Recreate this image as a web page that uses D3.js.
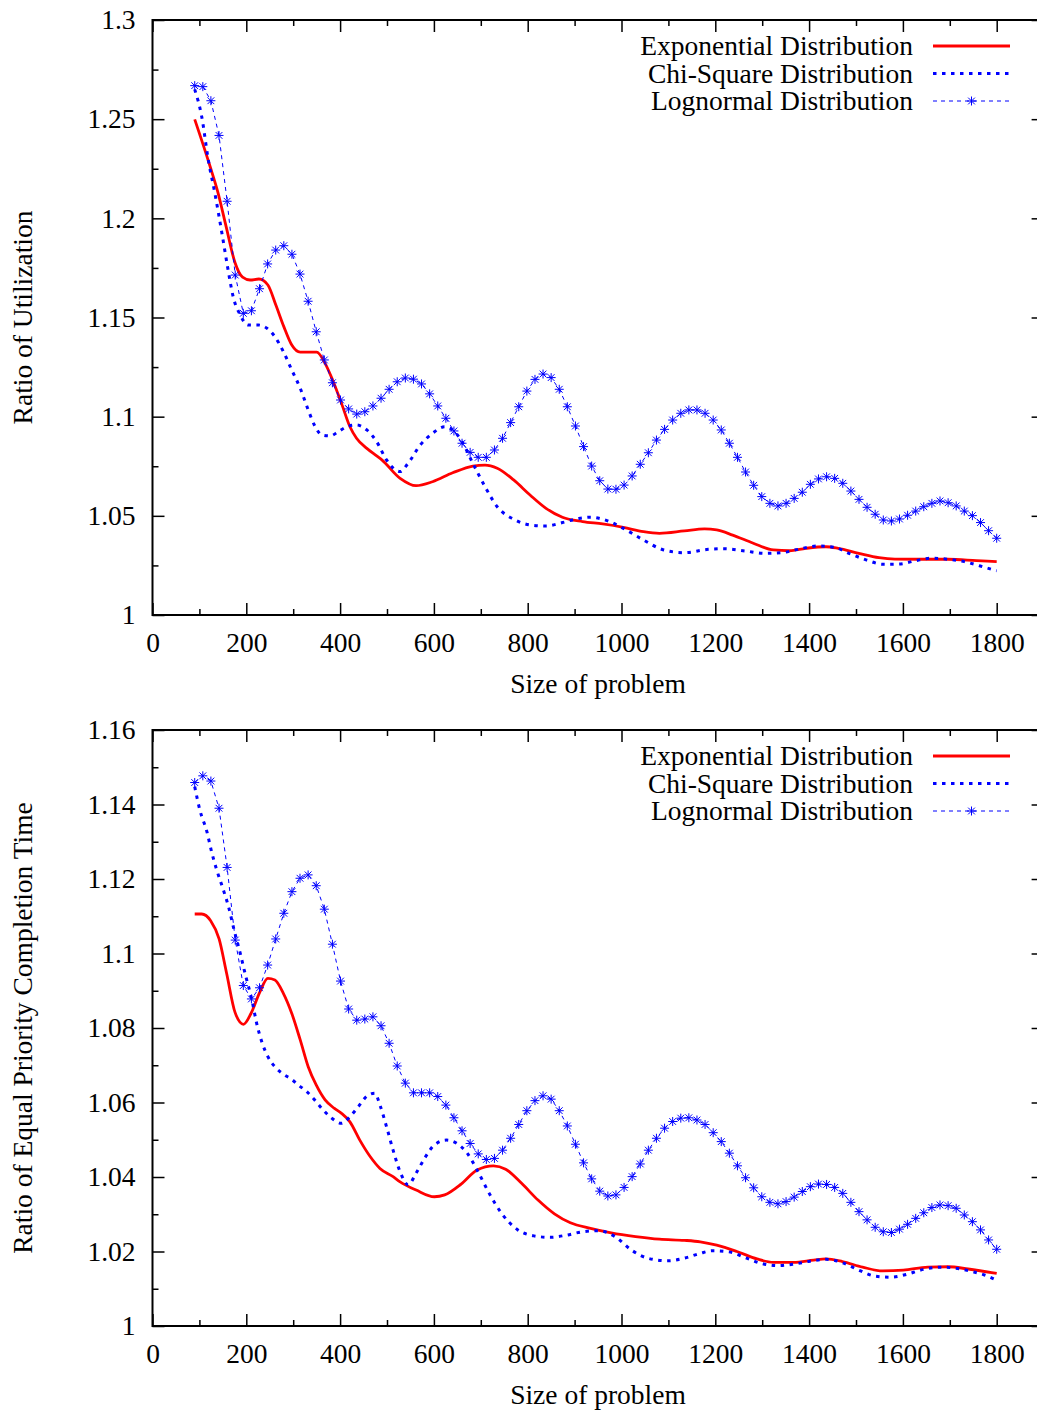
<!DOCTYPE html>
<html>
<head>
<meta charset="utf-8">
<script src="https://cdn.jsdelivr.net/npm/d3@7"></script>
<style>
  body { margin: 0; background: #fff; }
  svg text { font-family: "Liberation Serif", "Times New Roman", serif; fill: #000; }
</style>
</head>
<body>
<div id="chart"></div>
<script>
// x positions of the sampled points (shared by the lognormal curves)
const sampleX = [
  90.0, 107.3, 124.5, 141.8, 159.1, 176.4, 193.6, 210.9, 228.2, 245.5,
  262.7, 280.0, 297.3, 314.5, 331.8, 349.1, 366.4, 383.6, 400.9, 418.2,
  435.5, 452.7, 470.0, 487.3, 504.5, 521.8, 539.1, 556.4, 573.6, 590.9,
  608.2, 625.5, 642.7, 660.0, 677.3, 694.5, 711.8, 729.1, 746.4, 763.6,
  780.9, 798.2, 815.5, 832.7, 850.0, 867.3, 884.5, 901.8, 919.1, 936.4,
  953.6, 970.9, 988.2, 1005.5, 1022.7, 1040.0, 1057.3, 1074.5, 1091.8, 1109.1,
  1126.4, 1143.6, 1160.9, 1178.2, 1195.5, 1212.7, 1230.0, 1247.3, 1264.5, 1281.8,
  1299.1, 1316.4, 1333.6, 1350.9, 1368.2, 1385.5, 1402.7, 1420.0, 1437.3, 1454.5,
  1471.8, 1489.1, 1506.4, 1523.6, 1540.9, 1558.2, 1575.5, 1592.7, 1610.0, 1627.3,
  1644.5, 1661.8, 1679.1, 1696.4, 1713.6, 1730.9, 1748.2, 1765.5, 1782.7, 1800.0
];

// ---- top panel: Ratio of Utilization
const utilExponential = [[90,1.2499],[123,1.2260],[140,1.2126],[157,1.1958],[176,1.1776],[192,1.1703],[208,1.1689],[227,1.1694],[246,1.1664],[263,1.1563],[280,1.1454],[297,1.1361],[315,1.1325],[350,1.1325],[368,1.1269],[384,1.1185],[403,1.1067],[421,1.0949],[435,1.0891],[457,1.0840],[478,1.0802],[489,1.0782],[528,1.0689],[562,1.0652],[597,1.0672],[640,1.0717],[683,1.0751],[709,1.0756],[735,1.0740],[770,1.0681],[805,1.0605],[839,1.0538],[874,1.0493],[917,1.0471],[960,1.0459],[1004,1.0442],[1047,1.0420],[1081,1.0412],[1134,1.0424],[1177,1.0434],[1203,1.0429],[1237,1.0403],[1281,1.0362],[1324,1.0328],[1358,1.0324],[1393,1.0336],[1436,1.0344],[1462,1.0336],[1506,1.0311],[1549,1.0289],[1583,1.0282],[1635,1.0281],[1696,1.0281],[1757,1.0274],[1800,1.0269]];

const utilChiSquare = [[90,1.2650],[105,1.2512],[119,1.2294],[133,1.2126],[148,1.1925],[160,1.1756],[172,1.1605],[187,1.1513],[204,1.1462],[226,1.1462],[244,1.1446],[261,1.1403],[279,1.1328],[297,1.1235],[315,1.1143],[332,1.1034],[347,1.0949],[361,1.0908],[379,1.0903],[396,1.0924],[414,1.0949],[435,1.0958],[457,1.0933],[478,1.0874],[499,1.0782],[528,1.0723],[545,1.0765],[571,1.0857],[597,1.0916],[623,1.0949],[640,1.0933],[658,1.0882],[683,1.0765],[709,1.0647],[735,1.0546],[770,1.0483],[805,1.0454],[839,1.0449],[874,1.0466],[909,1.0487],[934,1.0493],[969,1.0476],[1004,1.0437],[1047,1.0378],[1090,1.0328],[1134,1.0314],[1185,1.0331],[1220,1.0334],[1263,1.0323],[1307,1.0311],[1341,1.0314],[1376,1.0331],[1419,1.0348],[1454,1.0341],[1488,1.0308],[1523,1.0277],[1557,1.0256],[1592,1.0257],[1627,1.0274],[1661,1.0286],[1696,1.0281],[1731,1.0269],[1765,1.0247],[1800,1.0223]];

const utilLognormal = [
  1.2669, 1.2664, 1.2593, 1.2418, 1.2086, 1.1714, 1.1521, 1.1534, 1.1645, 1.1770,
  1.1840, 1.1862, 1.1819, 1.1719, 1.1582, 1.1428, 1.1286, 1.1171, 1.1084, 1.1039,
  1.1013, 1.1025, 1.1054, 1.1093, 1.1138, 1.1176, 1.1195, 1.1189, 1.1165, 1.1115,
  1.1054, 1.0992, 1.0928, 1.0866, 1.0820, 1.0795, 1.0795, 1.0832, 1.0891, 1.0970,
  1.1050, 1.1129, 1.1188, 1.1215, 1.1197, 1.1138, 1.1050, 1.0953, 1.0849, 1.0751,
  1.0677, 1.0635, 1.0634, 1.0655, 1.0701, 1.0760, 1.0818, 1.0882, 1.0936, 1.0983,
  1.1017, 1.1034, 1.1034, 1.1017, 1.0983, 1.0933, 1.0866, 1.0795, 1.0721, 1.0654,
  1.0597, 1.0563, 1.0550, 1.0563, 1.0588, 1.0619, 1.0659, 1.0686, 1.0697, 1.0689,
  1.0664, 1.0625, 1.0583, 1.0543, 1.0508, 1.0479, 1.0474, 1.0484, 1.0503, 1.0524,
  1.0546, 1.0563, 1.0575, 1.0566, 1.0550, 1.0524, 1.0501, 1.0466, 1.0425, 1.0387
];

const utilTickValues = [1, 1.05, 1.1, 1.15, 1.2, 1.25, 1.3];
const utilTickLabels = ["1", "1.05", "1.1", "1.15", "1.2", "1.25", "1.3"];

// ---- bottom panel: Ratio of Equal Priority Completion Time
const ectExponential = [[90,1.1106],[105,1.1106],[124,1.1088],[142,1.1039],[158,1.0947],[176,1.0842],[194,1.0810],[210,1.0839],[229,1.0897],[246,1.0933],[261,1.0929],[279,1.0893],[297,1.0839],[315,1.0768],[332,1.0696],[349,1.0647],[368,1.0607],[388,1.0584],[403,1.0571],[421,1.0548],[442,1.0499],[464,1.0455],[485,1.0423],[513,1.0401],[528,1.0387],[562,1.0365],[601,1.0347],[623,1.0352],[658,1.0381],[692,1.0419],[727,1.0430],[753,1.0421],[787,1.0383],[822,1.0338],[857,1.0301],[891,1.0277],[934,1.0262],[978,1.0250],[1030,1.0240],[1081,1.0233],[1134,1.0230],[1168,1.0226],[1203,1.0217],[1246,1.0200],[1289,1.0180],[1324,1.0171],[1367,1.0171],[1410,1.0177],[1436,1.0180],[1471,1.0173],[1514,1.0158],[1557,1.0148],[1601,1.0150],[1653,1.0158],[1696,1.0159],[1739,1.0153],[1800,1.0141]];

const ectChiSquare = [[90,1.1448],[101,1.1385],[116,1.1327],[126,1.1273],[137,1.1224],[150,1.1175],[162,1.1126],[174,1.1063],[187,1.1001],[199,1.0938],[212,1.0875],[222,1.0813],[233,1.0763],[246,1.0723],[261,1.0696],[279,1.0676],[297,1.0662],[311,1.0647],[329,1.0629],[343,1.0611],[361,1.0584],[382,1.0558],[403,1.0544],[421,1.0562],[439,1.0589],[457,1.0617],[474,1.0625],[485,1.0593],[499,1.0535],[513,1.0472],[528,1.0414],[545,1.0379],[562,1.0410],[580,1.0450],[601,1.0486],[627,1.0499],[649,1.0490],[671,1.0464],[692,1.0419],[718,1.0356],[744,1.0303],[779,1.0258],[813,1.0242],[848,1.0238],[883,1.0244],[917,1.0253],[952,1.0256],[986,1.0240],[1021,1.0204],[1056,1.0182],[1099,1.0175],[1134,1.0182],[1168,1.0195],[1194,1.0202],[1229,1.0199],[1263,1.0184],[1298,1.0168],[1333,1.0162],[1367,1.0166],[1402,1.0174],[1436,1.0179],[1471,1.0170],[1506,1.0150],[1540,1.0134],[1575,1.0131],[1609,1.0139],[1644,1.0152],[1679,1.0158],[1713,1.0155],[1748,1.0146],[1774,1.0137],[1800,1.0123]];

const ectLognormal = [
  1.1459, 1.1477, 1.1463, 1.1390, 1.1231, 1.1036, 1.0914, 1.0878, 1.0908, 1.0969,
  1.1039, 1.1108, 1.1166, 1.1202, 1.1211, 1.1182, 1.1119, 1.1025, 1.0926, 1.0851,
  1.0821, 1.0824, 1.0830, 1.0806, 1.0759, 1.0698, 1.0652, 1.0626, 1.0626, 1.0626,
  1.0616, 1.0593, 1.0559, 1.0524, 1.0490, 1.0462, 1.0447, 1.0450, 1.0472, 1.0504,
  1.0541, 1.0578, 1.0605, 1.0618, 1.0609, 1.0578, 1.0537, 1.0488, 1.0438, 1.0395,
  1.0362, 1.0349, 1.0352, 1.0372, 1.0401, 1.0435, 1.0472, 1.0504, 1.0531, 1.0549,
  1.0558, 1.0559, 1.0553, 1.0541, 1.0519, 1.0495, 1.0464, 1.0430, 1.0398, 1.0371,
  1.0347, 1.0332, 1.0328, 1.0334, 1.0346, 1.0361, 1.0374, 1.0381, 1.0380, 1.0372,
  1.0356, 1.0332, 1.0307, 1.0285, 1.0265, 1.0253, 1.0251, 1.0260, 1.0273, 1.0289,
  1.0304, 1.0318, 1.0325, 1.0323, 1.0316, 1.0298, 1.0280, 1.0258, 1.0231, 1.0206
];

const ectTickValues = [1, 1.02, 1.04, 1.06, 1.08, 1.1, 1.12, 1.14, 1.16];
const ectTickLabels = ["1", "1.02", "1.04", "1.06", "1.08", "1.1", "1.12", "1.14", "1.16"];

const xTickValues = [0, 200, 400, 600, 800, 1000, 1200, 1400, 1600, 1800];
const xMinorValues = [100, 300, 500, 700, 900, 1100, 1300, 1500, 1700, 1900];
const seriesNames = ["Exponential Distribution", "Chi-Square Distribution", "Lognormal Distribution"];

const width = 1037, height = 1414;
const plotLeft = 152.5, plotRight = 1043.6;
const fontSize = 27.5;

const svg = d3.select("#chart").append("svg")
  .attr("width", width)
  .attr("height", height);

function starPath(r) {
  const k = r * 0.75;
  return `M${-r},0H${r}M0,${-r}V${r}M${-k},${-k}L${k},${k}M${-k},${k}L${k},${-k}`;
}

function drawPanel(cfg) {
  const x = d3.scaleLinear().domain([0, 1900]).range([plotLeft, plotRight]);
  const y = d3.scaleLinear().domain(cfg.yDomain).range([cfg.bottom, cfg.top]);
  const g = svg.append("g");

  const minorY = [];
  for (let i = 0; i < cfg.yTicks.length - 1; i++) {
    minorY.push((cfg.yTicks[i] + cfg.yTicks[i + 1]) / 2);
  }

  // ticks (gnuplot style: inward, mirrored)
  const addAxis = (axis, tx, ty, cls) => {
    const a = g.append("g").attr("class", cls)
      .attr("transform", `translate(${tx},${ty})`)
      .call(axis);
    a.select(".domain").remove();
    a.selectAll(".tick line").attr("stroke", "#000").attr("stroke-width", 1.5);
    a.selectAll(".tick text").attr("font-size", fontSize).attr("fill", "#000");
    return a;
  };

  addAxis(d3.axisBottom(x).tickValues(xTickValues).tickSize(-12).tickPadding(17.5)
    .tickFormat(d3.format("d")), 0, cfg.bottom, "x-axis");
  addAxis(d3.axisBottom(x).tickValues(xMinorValues).tickSize(-6).tickFormat(""), 0, cfg.bottom, "x-minor");
  addAxis(d3.axisTop(x).tickValues(xTickValues).tickSize(-12).tickFormat(""), 0, cfg.top, "x-top");
  addAxis(d3.axisTop(x).tickValues(xMinorValues).tickSize(-6).tickFormat(""), 0, cfg.top, "x-top-minor");

  addAxis(d3.axisLeft(y).tickValues(cfg.yTicks).tickSize(-12).tickPadding(17)
    .tickFormat((d, i) => cfg.yLabels[i]), plotLeft, 0, "y-axis");
  addAxis(d3.axisLeft(y).tickValues(minorY).tickSize(-6).tickFormat(""), plotLeft, 0, "y-minor");
  addAxis(d3.axisRight(y).tickValues(cfg.yTicks).tickSize(-12).tickFormat(""), plotRight, 0, "y-right");
  addAxis(d3.axisRight(y).tickValues(minorY).tickSize(-6).tickFormat(""), plotRight, 0, "y-right-minor");

  // border
  g.append("rect")
    .attr("x", plotLeft).attr("y", cfg.top)
    .attr("width", plotRight - plotLeft).attr("height", cfg.bottom - cfg.top)
    .attr("fill", "none").attr("stroke", "#000").attr("stroke-width", 2);

  // axis titles
  g.append("text")
    .attr("x", 598).attr("y", cfg.bottom + 78)
    .attr("text-anchor", "middle").attr("font-size", fontSize)
    .text("Size of problem");
  g.append("text")
    .attr("transform", `translate(32,${(cfg.top + cfg.bottom) / 2}) rotate(-90)`)
    .attr("text-anchor", "middle").attr("font-size", fontSize)
    .text(cfg.yTitle);

  const smooth = d3.line().x(d => x(d[0])).y(d => y(d[1])).curve(d3.curveMonotoneX);
  const straight = d3.line().x(d => x(d[0])).y(d => y(d[1]));

  // series
  g.append("path").datum(cfg.exponential)
    .attr("d", smooth).attr("fill", "none")
    .attr("stroke", "#ff0000").attr("stroke-width", 2.8);

  g.append("path").datum(cfg.chiSquare)
    .attr("d", smooth).attr("fill", "none")
    .attr("stroke", "#0000ff").attr("stroke-width", 3)
    .attr("stroke-dasharray", "3.5,5.5");

  const logPts = sampleX.map((sx, i) => [sx, cfg.lognormal[i]]);
  g.append("path").datum(logPts)
    .attr("d", straight).attr("fill", "none")
    .attr("stroke", "#0000ff").attr("stroke-width", 1)
    .attr("stroke-dasharray", "4,4");
  g.append("g").selectAll("path").data(logPts).join("path")
    .attr("transform", d => `translate(${x(d[0])},${y(d[1])})`)
    .attr("d", starPath(4.5))
    .attr("stroke", "#0000ff").attr("stroke-width", 1).attr("fill", "none");

  // legend
  const legend = g.append("g");
  seriesNames.forEach((name, i) => {
    const ly = cfg.top + 26 + i * 27.5;
    legend.append("text")
      .attr("x", 913).attr("y", ly).attr("dy", "0.33em")
      .attr("text-anchor", "end").attr("font-size", fontSize)
      .text(name);
    const ln = legend.append("line")
      .attr("x1", 933).attr("x2", 1010).attr("y1", ly).attr("y2", ly)
      .attr("stroke", i === 0 ? "#ff0000" : "#0000ff");
    if (i === 0) ln.attr("stroke-width", 2.8);
    if (i === 1) ln.attr("stroke-width", 3).attr("stroke-dasharray", "3.5,5.5");
    if (i === 2) {
      ln.attr("stroke-width", 1).attr("stroke-dasharray", "4,4");
      legend.append("path")
        .attr("transform", `translate(971.5,${ly})`)
        .attr("d", starPath(4.5))
        .attr("stroke", "#0000ff").attr("stroke-width", 1).attr("fill", "none");
    }
  });
}

drawPanel({
  top: 20, bottom: 615,
  yDomain: [1, 1.3],
  yTicks: utilTickValues, yLabels: utilTickLabels,
  yTitle: "Ratio of Utilization",
  exponential: utilExponential, chiSquare: utilChiSquare, lognormal: utilLognormal
});

drawPanel({
  top: 730, bottom: 1326,
  yDomain: [1, 1.16],
  yTicks: ectTickValues, yLabels: ectTickLabels,
  yTitle: "Ratio of Equal Priority Completion Time",
  exponential: ectExponential, chiSquare: ectChiSquare, lognormal: ectLognormal
});
</script>
</body>
</html>
